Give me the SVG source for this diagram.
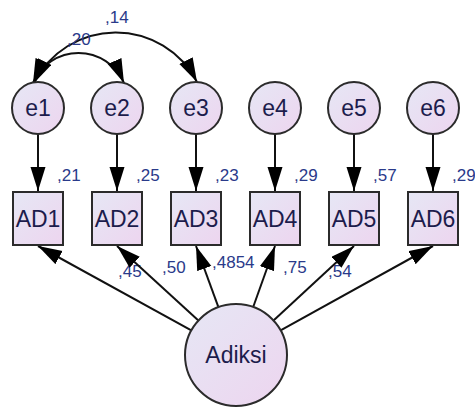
<svg xmlns="http://www.w3.org/2000/svg" width="475" height="407" viewBox="0 0 475 407">
<style>
.node{fill:url(#g);stroke:#2b2b2b;stroke-width:2}
.lbl{font-family:"Liberation Sans",Arial,sans-serif;font-size:23px;fill:#1c1c4c;text-anchor:middle}
.num{font-family:"Liberation Sans",Arial,sans-serif;font-size:17px;fill:#2a3a8a}
.c{fill:none;stroke:#111;stroke-width:2;marker-end:url(#ah)}
.arc{fill:none;stroke:#111;stroke-width:2;marker-end:url(#ah);marker-start:url(#ah)}
</style>
<defs>
<linearGradient id="g" x1="0" y1="0" x2="1" y2="1">
<stop offset="0" stop-color="#e6e7f5"/>
<stop offset="1" stop-color="#edd5ef"/>
</linearGradient>
<marker id="ah" markerUnits="userSpaceOnUse" markerWidth="26" markerHeight="16" refX="24" refY="7.5" orient="auto-start-reverse" viewBox="0 0 26 16">
<path d="M0,0 L24,7.5 L0,15 z" fill="#000"/>
</marker>
</defs>
<g id="labels-under">
<text class="num" x="118" y="277">,45</text>
<text class="num" x="328" y="277">,54</text>
</g>
<g id="connectors">
<line class="c" x1="38" y1="134" x2="38" y2="191"/>
<line class="c" x1="117" y1="134" x2="117" y2="191"/>
<line class="c" x1="196" y1="134" x2="196" y2="191"/>
<line class="c" x1="275" y1="134" x2="275" y2="191"/>
<line class="c" x1="354" y1="134" x2="354" y2="191"/>
<line class="c" x1="433" y1="134" x2="433" y2="191"/>
<line class="c" x1="191.3" y1="330.4" x2="38" y2="246"/>
<line class="c" x1="198.4" y1="320.6" x2="117" y2="246"/>
<line class="c" x1="218.4" y1="307.1" x2="196" y2="246"/>
<line class="c" x1="253.2" y1="307" x2="275" y2="246"/>
<line class="c" x1="273.5" y1="320.4" x2="354" y2="246"/>
<line class="c" x1="280.6" y1="330.3" x2="433" y2="246"/>
<path class="arc" d="M33,83 A49.5,49.5 0 0 1 124,83"/>
<path class="arc" d="M34,83 A91.4,91.4 0 0 1 197,82"/>
</g>
<g id="e1"><circle class="node" cx="38" cy="108" r="26"/><text class="lbl" x="38" y="116">e1</text></g>
<g id="e2"><circle class="node" cx="117" cy="108" r="26"/><text class="lbl" x="117" y="116">e2</text></g>
<g id="e3"><circle class="node" cx="196" cy="108" r="26"/><text class="lbl" x="196" y="116">e3</text></g>
<g id="e4"><circle class="node" cx="275" cy="108" r="26"/><text class="lbl" x="275" y="116">e4</text></g>
<g id="e5"><circle class="node" cx="354" cy="108" r="26"/><text class="lbl" x="354" y="116">e5</text></g>
<g id="e6"><circle class="node" cx="433" cy="108" r="26"/><text class="lbl" x="433" y="116">e6</text></g>
<g id="AD1"><rect class="node" x="13" y="192" width="50" height="53"/><text class="lbl" x="38" y="227">AD1</text></g>
<g id="AD2"><rect class="node" x="92" y="192" width="50" height="53"/><text class="lbl" x="117" y="227">AD2</text></g>
<g id="AD3"><rect class="node" x="171" y="192" width="50" height="53"/><text class="lbl" x="196" y="227">AD3</text></g>
<g id="AD4"><rect class="node" x="250" y="192" width="50" height="53"/><text class="lbl" x="275" y="227">AD4</text></g>
<g id="AD5"><rect class="node" x="329" y="192" width="50" height="53"/><text class="lbl" x="354" y="227">AD5</text></g>
<g id="AD6"><rect class="node" x="408" y="192" width="50" height="53"/><text class="lbl" x="433" y="227">AD6</text></g>
<g id="Adiksi"><circle class="node" cx="236" cy="355" r="51"/><text class="lbl" x="236" y="363">Adiksi</text></g>
<g id="numbers">
<text class="num" x="105" y="23">,14</text>
<text class="num" x="67" y="45">,20</text>
<text class="num" x="57" y="181">,21</text>
<text class="num" x="136" y="181">,25</text>
<text class="num" x="215" y="181">,23</text>
<text class="num" x="294" y="181">,29</text>
<text class="num" x="373" y="181">,57</text>
<text class="num" x="452" y="181">,29</text>
<text class="num" x="162" y="273">,50</text>
<text class="num" x="212" y="268">,4854</text>
<text class="num" x="283" y="273">,75</text>
</g>
</svg>
